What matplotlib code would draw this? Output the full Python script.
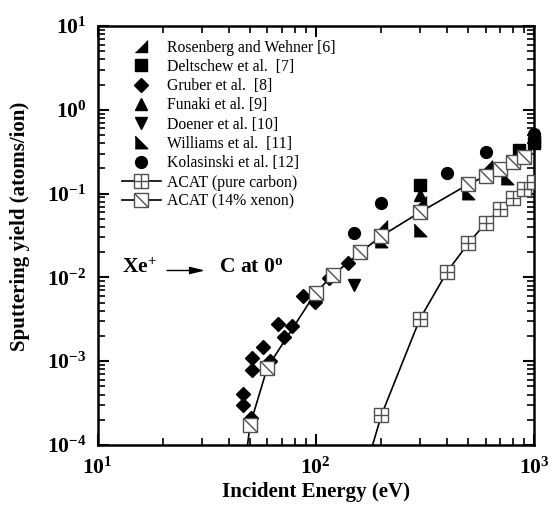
import matplotlib
matplotlib.use('Agg')
import matplotlib.pyplot as plt
from matplotlib.path import Path
from matplotlib.ticker import LogLocator, NullFormatter

plt.rcParams['font.family'] = ['Liberation Serif', 'DejaVu Serif']
plt.rcParams['mathtext.fontset'] = 'custom'
plt.rcParams['mathtext.rm'] = 'Liberation Serif:bold'
plt.rcParams['mathtext.bf'] = 'Liberation Serif:bold'
plt.rcParams['mathtext.it'] = 'Liberation Serif:bold:italic'

# ---------------- data ----------------
rosenberg_E = [200, 300, 600, 1000]
rosenberg_Y = [0.041, 0.079, 0.215, 0.42]

deltschew_E = [300, 850, 1000]
deltschew_Y = [0.127, 0.331, 0.40]

gruber_E = [46.6, 46.6, 50.5, 51.2, 51.2, 57.1, 61.7, 67.4, 71.7, 77.6, 87.7, 99.2, 115, 141]
gruber_Y = [4.03e-4, 2.98e-4, 2.1e-4, 1.09e-3, 7.96e-4, 1.49e-3, 1.0e-3, 2.77e-3,
            1.96e-3, 2.64e-3, 5.95e-3, 5.09e-3, 9.75e-3, 0.0147]

funaki_E = [300, 1000]
funaki_Y = [0.096, 0.47]

doener_E = [150]
doener_Y = [8.1e-3]

williams_E = [200, 300, 500, 750]
williams_Y = [0.027, 0.0368, 0.101, 0.152]

kolasinski_E = [150, 200, 400, 600, 1000]
kolasinski_Y = [0.0341, 0.0766, 0.175, 0.316, 0.52]

acat_c_E = [150, 200, 300, 400, 500, 600, 700, 800, 900, 1000]
acat_c_Y = [1.8e-5, 2.28e-4, 3.19e-3, 0.0117, 0.0255, 0.0442, 0.0655, 0.0893, 0.1135, 0.1387]

acat_xe_E = [45, 50, 60, 100, 120, 160, 200, 300, 500, 600, 700, 800, 900]
acat_xe_Y = [2e-5, 1.73e-4, 8.4e-4, 6.6e-3, 0.0107, 0.0199, 0.0312, 0.0598, 0.129, 0.162,
             0.198, 0.236, 0.275]

x_ticks = [10, 100, 1000]
x_ticklabels = [r'$\mathrm{10^{1}}$', r'$\mathrm{10^{2}}$', r'$\mathrm{10^{3}}$']
y_ticks = [1e-4, 1e-3, 1e-2, 1e-1, 1e0, 1e1]
y_ticklabels = [r'$\mathrm{10^{-4}}$', r'$\mathrm{10^{-3}}$', r'$\mathrm{10^{-2}}$',
                r'$\mathrm{10^{-1}}$', r'$\mathrm{10^{0}}$', r'$\mathrm{10^{1}}$']

# ---------------- figure ----------------
W, H = 551, 507
fig = plt.figure(figsize=(W / 100, H / 100), dpi=100)
L, R, T, B = 97.5, 534, 26, 445
ax = fig.add_axes([L / W, 1 - B / H, (R - L) / W, (B - T) / H])

tri_lr = [(-1, -1), (1, -1), (1, 1)]   # right angle bottom-right
tri_ll = [(-1, -1), (1, -1), (-1, 1)]  # right angle bottom-left
diag = Path([(-1, 1), (1, -1)], [Path.MOVETO, Path.LINETO])

common = dict(linestyle='none', color='black', clip_on=False, zorder=3)
h_ros, = ax.plot(rosenberg_E, rosenberg_Y, marker=tri_lr, ms=9, **common)
h_del, = ax.plot(deltschew_E, deltschew_Y, marker='s', ms=8, **common)
h_gru, = ax.plot(gruber_E, gruber_Y, marker='D', ms=7, **common)
h_fun, = ax.plot(funaki_E, funaki_Y, marker='^', ms=9, **common)
h_doe, = ax.plot(doener_E, doener_Y, marker='v', ms=9, **common)
h_wil, = ax.plot(williams_E, williams_Y, marker=tri_ll, ms=9, **common)
h_kol, = ax.plot(kolasinski_E, kolasinski_Y, marker='o', ms=8.5, **common)

sq_ms = 9.5
edge = '#505050'
h_c, = ax.plot(acat_c_E, acat_c_Y, color='black', lw=1.2, marker='s', ms=sq_ms,
               mfc='white', mec=edge, mew=1.0, zorder=4, clip_on=True)
h_c2, = ax.plot(acat_c_E, acat_c_Y, linestyle='none', marker='+', ms=sq_ms,
                mec=edge, mew=1.0, zorder=5, clip_on=True)
h_x, = ax.plot(acat_xe_E, acat_xe_Y, color='black', lw=1.2, marker='s', ms=sq_ms,
               mfc='white', mec=edge, mew=1.0, zorder=4, clip_on=True)
h_x2, = ax.plot(acat_xe_E, acat_xe_Y, linestyle='none', marker=diag, ms=sq_ms,
                mec=edge, mew=1.0, zorder=5, clip_on=True)

ax.set_xscale('log')
ax.set_yscale('log')
ax.set_xlim(10, 1000)
ax.set_ylim(1e-4, 10)

ax.set_xticks(x_ticks)
ax.set_xticklabels(x_ticklabels)
ax.set_yticks(y_ticks)
ax.set_yticklabels(y_ticklabels)
ax.xaxis.set_minor_locator(LogLocator(base=10, subs=range(2, 10), numticks=20))
ax.yaxis.set_minor_locator(LogLocator(base=10, subs=range(2, 10), numticks=20))
ax.xaxis.set_minor_formatter(NullFormatter())
ax.yaxis.set_minor_formatter(NullFormatter())
ax.tick_params(which='both', direction='in', top=True, right=True, labelsize=15.5)
ax.tick_params(which='major', length=8, width=1.5)
ax.tick_params(which='minor', length=5, width=1.2)
ax.tick_params(axis='x', pad=9)
ax.tick_params(axis='y', pad=8)
for s in ax.spines.values():
    s.set_linewidth(1.8)

fig.text((L + R) / 2 / W, 1 - 492 / H, 'Incident Energy (eV)', ha='center', va='center',
         fontsize=15, fontweight='bold')
fig.text(20 / W, 1 - 226 / H, 'Sputtering yield (atoms/ion)', ha='center', va='center',
         rotation=90, fontsize=15, fontweight='bold')

# annotation Xe+ -> C at 0o
fig.text(121.7 / W, 1 - 268 / H, r'$\mathrm{Xe^{+}}$', ha='left', va='center', fontsize=15.5)
fig.text(219 / W, 1 - 268 / H, r'$\mathrm{C\ at\ 0^{o}}$', ha='left', va='center', fontsize=15.5)
ax.annotate('', xy=(205 / W, 1 - 270.5 / H), xytext=(167 / W, 1 - 270.5 / H),
            xycoords='figure fraction', textcoords='figure fraction',
            arrowprops=dict(arrowstyle='-|>,head_length=0.9,head_width=0.22',
                            color='black', lw=1.0, shrinkA=0, shrinkB=0))

handles = [h_ros, h_del, h_gru, h_fun, h_doe, h_wil, h_kol, (h_c, h_c2), (h_x, h_x2)]
labels = ['Rosenberg and Wehner [6]', 'Deltschew et al.  [7]', 'Gruber et al.  [8]',
          'Funaki et al. [9]', 'Doener et al. [10]', 'Williams et al.  [11]',
          'Kolasinski et al. [12]', 'ACAT (pure carbon)', 'ACAT (14% xenon)']
leg = ax.legend(handles, labels, loc='upper left',
                bbox_to_anchor=(121.7 / W, 1 - 39.5 / H), bbox_transform=fig.transFigure,
                frameon=False, fontsize=11.3, numpoints=1, handlelength=2.5,
                handletextpad=0.4, labelspacing=0.21, borderpad=0, borderaxespad=0)

fig.savefig('out.png', dpi=100)
